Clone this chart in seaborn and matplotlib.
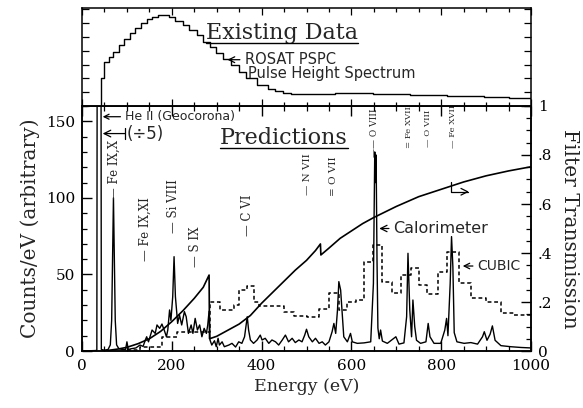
import matplotlib
matplotlib.use("Agg")
import matplotlib.pyplot as plt
from matplotlib.lines import Line2D
from matplotlib.ticker import MultipleLocator, FixedLocator, FixedFormatter
from matplotlib.transforms import IdentityTransform
import seaborn as sns

# Calorimeter predicted spectrum (counts/eV, arbitrary)
cal_ev = [0, 30, 33, 34.5, 41.5, 43, 50, 58, 63, 66, 68, 70, 72, 74, 77, 82, 90, 97, 100,
          103, 110, 120, 129, 136, 141, 144, 148, 156, 163, 167, 173, 178, 183, 188, 191, 195,
          198, 202, 205, 208, 213, 217, 222, 228, 232, 237, 243, 247, 252, 257, 262, 267, 272,
          277, 280, 283, 285, 289, 295, 299, 303, 306, 312, 317, 327, 334, 342, 349, 356, 362,
          368, 371, 375, 382, 390, 397, 401, 408, 416, 423, 431, 438, 446, 453, 460, 468, 475,
          483, 490, 496, 500, 505, 513, 520, 528, 535, 542, 550, 557, 561, 565, 569, 572, 576,
          580, 583, 591, 598, 602, 613, 628, 643, 649, 652, 653.5, 655, 657, 659, 662, 665,
          669, 680, 699, 706, 717, 723, 726, 730, 734, 737, 741, 745, 754, 766, 771, 775, 784,
          799, 808, 812, 815, 820, 823, 826, 829, 835, 851, 866, 881, 892, 896, 902, 909, 914,
          920, 933, 955, 978, 1000]
cal_counts = [0, 0.3, 0.5, 400, 400, 1, 0.5, 1, 4, 20, 60, 100, 60, 20, 4, 1.5, 1, 1, 6,
              1, 1.5, 2, 3.9, 3, 7.2, 9.3, 6, 13.7, 11.5, 17, 14.8, 17.6, 13.7, 9.3, 13.7, 26.8,
              20, 35.5, 61.6, 35.5, 18, 23.5, 17, 25.7, 22.4, 11.5, 17, 11.5, 21.3, 13.7, 17, 9.3,
              14.8, 11.5, 17, 26, 7.2, 3.9, 6.7, 2.8, 8.3, 3.9, 6, 2.8, 3.9, 5, 2.6, 6, 5, 9.3,
              22.4, 13.7, 7.2, 5, 7.2, 10.4, 7.2, 8.3, 5, 7.2, 6, 3.9, 7.2, 10.4, 6, 8.3, 5.5,
              7.2, 6, 10.4, 14.2, 9.3, 6, 8.3, 5, 6, 3.9, 6, 12.6, 18, 11.5, 26.8, 45.3, 39.8,
              22.4, 9.3, 6, 11.5, 6, 5, 5.3, 6, 44, 130, 110, 128, 60, 15, 8, 13.7,
              6.5, 5, 9.3, 4.5, 5.3, 22.4, 63.8, 26.8, 9.3, 33.3, 16, 7, 5, 6, 18, 9.3, 5,
              5, 13.7, 21.3, 10, 44, 74.7, 55, 12, 6, 5, 5.5, 4.5, 9.3, 12.6, 7, 11, 16.4,
              7, 3.5, 2.8, 2.3, 2]

# CUBIC predicted spectrum (step bins, left edges)
cubic_ev = [100, 130, 178, 212, 284, 308, 338, 349, 368, 382, 394, 449, 472, 502, 528, 550,
            572, 591, 610, 628, 647, 669, 691, 710, 732, 751, 769, 792, 814, 840, 866, 900,
            933, 963, 1000]
cubic_counts = [0.5, 2.8, 9.3, 12.6, 32.2, 26.8, 30, 39.8, 42.5, 32.2, 29.4, 25.7, 22.9, 22,
                27.2, 37.7, 26.8, 32.2, 33.5, 58.3, 69.2, 45.3, 37.7, 49.6, 54, 43.1, 37.2,
                51.8, 64.9, 44.2, 34.4, 32.2, 24.6, 23.5, 23.5]

# Filter transmission (right axis)
filt_ev = [45, 60, 80, 100, 125, 150, 175, 200, 225, 250, 270, 283, 284, 300, 325, 350, 375,
           400, 425, 450, 475, 500, 520, 531, 532, 550, 575, 600, 625, 650, 700, 750, 800,
           850, 900, 950, 1000]
filt = [0, 0.003, 0.008, 0.015, 0.03, 0.05, 0.08, 0.12, 0.165, 0.215, 0.26, 0.31, 0.05, 0.06,
        0.085, 0.11, 0.145, 0.195, 0.24, 0.285, 0.33, 0.37, 0.41, 0.437, 0.392, 0.42, 0.46,
        0.49, 0.52, 0.545, 0.59, 0.63, 0.66, 0.69, 0.715, 0.735, 0.752]

# ROSAT PSPC pulse height spectrum (top panel, arbitrary)
pspc_ev = [0, 42, 49, 59, 69, 82, 94, 107, 119, 132, 144, 156, 169, 181, 194, 208, 224,
           239, 255, 269, 284, 299, 314, 332, 349, 365, 390, 415, 430, 448, 465, 481, 520,
           564, 600, 647, 730, 813, 896, 950, 1000]
pspc = [0, 0.28, 0.45, 0.50, 0.55, 0.62, 0.68, 0.74, 0.79, 0.84, 0.88, 0.90, 0.92, 0.92,
        0.90, 0.865, 0.82, 0.77, 0.72, 0.65, 0.60, 0.54, 0.48, 0.415, 0.35, 0.28, 0.21, 0.17,
        0.15, 0.135, 0.125, 0.12, 0.12, 0.128, 0.128, 0.12, 0.11, 0.10, 0.088, 0.08, 0.07]

right_ticks = [0, 0.2, 0.4, 0.6, 0.8, 1.0]
right_labels = ["0", ".2", ".4", ".6", ".8", "1"]

# Line identifications
line_labels = ["— Fe IX,X", "— Fe IX,XI", "— Si VIII", "— S IX", "— C VI", "— N VII",
               "= O VII", "—— O VIII", "= Fe XVII", "— O VIII", "— Fe XVII"]
line_energies = [72, 141, 204, 252, 368, 502, 561, 652, 728, 770, 826]


def main() -> None:
    sns.set_theme(style="ticks")
    plt.rcParams["font.family"] = ["DejaVu Serif"]
    plt.rcParams["axes.edgecolor"] = "black"
    plt.rcParams["axes.linewidth"] = 1.1
    plt.rcParams["xtick.color"] = "black"
    plt.rcParams["ytick.color"] = "black"

    fig = plt.figure(figsize=(5.83, 4.08), dpi=100)
    ax = fig.add_axes([0.1407, 0.1397, 0.7701, 0.6005])
    ax_top = fig.add_axes([0.1407, 0.7402, 0.7701, 0.2414], sharex=ax)
    ax2 = ax.twinx()

    sns.lineplot(x=cal_ev, y=cal_counts, ax=ax, color="black", lw=1.0,
                 estimator=None, sort=False, legend=False)
    sns.lineplot(x=cubic_ev, y=cubic_counts, ax=ax, color="black", lw=1.1,
                 linestyle=(0, (2.5, 1.8)), drawstyle="steps-post",
                 estimator=None, sort=False, legend=False)
    sns.lineplot(x=filt_ev, y=filt, ax=ax2, color="black", lw=1.2,
                 estimator=None, sort=False, legend=False)
    sns.lineplot(x=pspc_ev, y=pspc, ax=ax_top, color="black", lw=1.0,
                 drawstyle="steps-post", estimator=None, sort=False, legend=False)

    # Axes limits and ticks
    ax.set_xlim(0, 1000)
    ax.set_ylim(0, 160)
    ax2.set_ylim(0, 1)
    ax_top.set_ylim(0, 1)

    ax.xaxis.set_major_locator(MultipleLocator(200))
    ax.xaxis.set_minor_locator(MultipleLocator(50))
    ax.yaxis.set_major_locator(MultipleLocator(50))
    ax.yaxis.set_minor_locator(MultipleLocator(10))
    ax2.yaxis.set_major_locator(FixedLocator(right_ticks))
    ax2.yaxis.set_major_formatter(FixedFormatter(right_labels))
    ax2.yaxis.set_minor_locator(MultipleLocator(0.05))
    ax_top.yaxis.set_major_locator(MultipleLocator(0.14))

    ax.tick_params(which="both", direction="in", top=True, right=False, labelsize=11, pad=5)
    ax.tick_params(which="major", length=7, width=1)
    ax.tick_params(which="minor", length=3.5, width=0.9)
    ax.tick_params(axis="x", pad=6)
    ax2.tick_params(which="both", direction="in", labelsize=11, pad=5)
    ax2.tick_params(which="major", length=7, width=1)
    ax2.tick_params(which="minor", length=3.5, width=0.9)
    ax_top.tick_params(which="both", direction="in", top=True, right=True, bottom=True,
                       labelbottom=False, labelleft=False)
    ax_top.tick_params(which="major", length=5, width=0.9)
    ax_top.tick_params(which="minor", length=3, width=0.9)

    ax.set_xlabel("Energy (eV)", fontsize=12.5, labelpad=3)
    ax.set_ylabel("Counts/eV (arbitrary)", fontsize=14.5, labelpad=4)
    ax2.set_ylabel("Filter Transmission", fontsize=14.5, rotation=270, labelpad=19)
    ax_top.set_xlabel("")
    ax_top.set_ylabel("")

    # Line labels: bottom of each label (counts) and its font size
    label_base = [99, 59, 77, 55, 75, 102, 101, 127, 132.5, 133, 132.5]
    label_size = [8.5, 8.5, 8.5, 8.5, 8.5, 7.5, 7.5, 6.5, 6.1, 6.1, 6.1]
    for label, ev, base, size in zip(line_labels, line_energies, label_base, label_size):
        ax.text(ev, base, label, rotation=90, ha="center", va="bottom", fontsize=size)

    # Titles in the panels
    t_exist = ax_top.text(445, 0.68, "Existing Data", fontsize=16, ha="center",
                          va="baseline")
    t_pred = ax.text(450, 135, "Predictions", fontsize=16, ha="center", va="baseline")

    # Annotations
    sans = "DejaVu Sans"
    arrow = dict(arrowstyle="->", lw=0.9, color="black", shrinkA=1, shrinkB=0)
    ax_top.annotate("ROSAT PSPC", xy=(324, 0.47), xytext=(362, 0.47), fontsize=10.5,
                    family=sans, va="center", arrowprops=arrow)
    ax_top.text(370, 0.325, "Pulse Height Spectrum", fontsize=10.5, family=sans,
                va="center")

    ax.annotate("He II (Geocorona)", xy=(46, 153), xytext=(96, 153), fontsize=9,
                family=sans, va="center", arrowprops=arrow)
    ax.annotate("", xy=(96, 142), xytext=(46, 142),
                arrowprops=dict(arrowstyle="<-[, widthB=0.35, lengthB=0", lw=0.9,
                                color="black", shrinkA=0, shrinkB=0))
    ax.text(100, 142, "(÷5)", fontsize=12, family=sans, va="center")

    ax.annotate("Calorimeter", xy=(662, 80), xytext=(694, 80), fontsize=11.5,
                family=sans, va="center", arrowprops=arrow)
    ax.annotate("CUBIC", xy=(848, 55.5), xytext=(881, 55.5), fontsize=10,
                family=sans, va="center", arrowprops=arrow)
    ax2.annotate("", xy=(862, 0.65), xytext=(821, 0.69),
                 arrowprops=dict(arrowstyle="->", lw=0.9, color="black", shrinkA=0,
                                 shrinkB=0,
                                 connectionstyle="angle,angleA=90,angleB=0,rad=0"))

    # Underline the panel titles
    fig.canvas.draw()
    for t in (t_exist, t_pred):
        bb = t.get_window_extent()
        fig.add_artist(Line2D([bb.x0, bb.x1], [bb.y0 + 1.5, bb.y0 + 1.5], color="black",
                              lw=1.0, transform=IdentityTransform()))

    fig.savefig("out.png", dpi=100)


if __name__ == "__main__":
    main()
